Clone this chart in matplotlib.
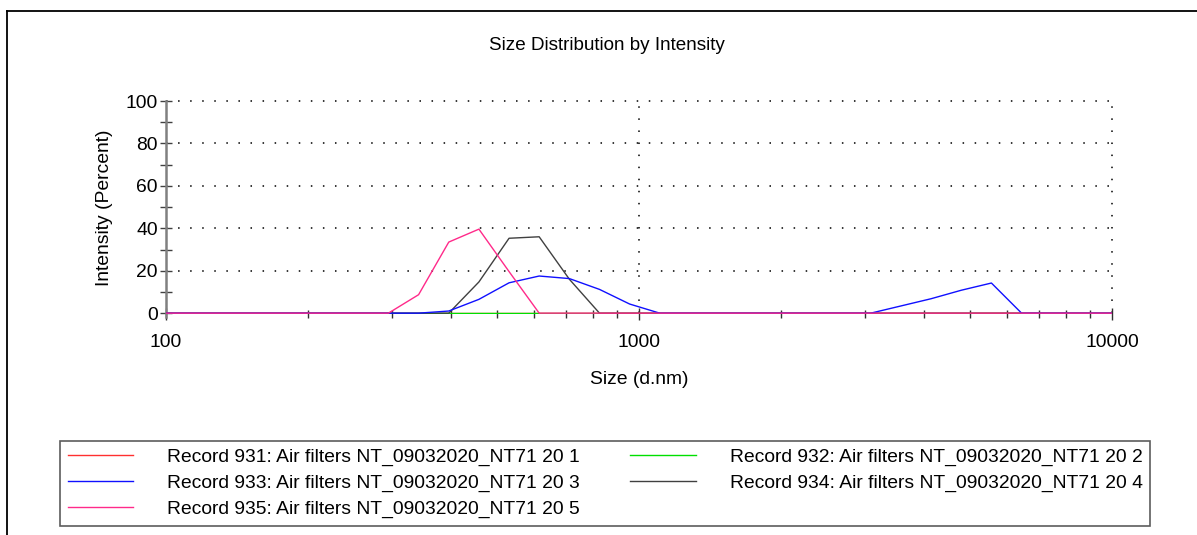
import matplotlib
matplotlib.use("Agg")
import matplotlib.pyplot as plt
from matplotlib.lines import Line2D
from matplotlib.ticker import FixedLocator, FixedFormatter, NullFormatter, LogLocator

plt.rcParams["font.family"] = ["Liberation Sans", "DejaVu Sans"]

# Size bins (d.nm) of the DLS distribution, 91 nm .. 10 um
sizes = [91.28, 105.7, 122.4, 141.8, 164.2, 190.1, 220.2, 255.0, 295.3, 342.0,
         396.1, 458.7, 531.2, 615.1, 712.4, 825.0, 955.4, 1106, 1281, 1484,
         1718, 1990, 2305, 2669, 3091, 3580, 4145, 4801, 5560, 6439,
         7456, 8635, 10000]

# Intensity (%) per bin for each record
rec_931 = [0] * 33
rec_932 = [0] * 33
rec_933 = [0, 0, 0, 0, 0, 0, 0, 0, 0, 0,
           1.0, 6.5, 14.3, 17.5, 16.3, 11.2, 4.3, 0, 0, 0,
           0, 0, 0, 0, 0, 3.4, 6.8, 10.8, 14.2, 0,
           0, 0, 0]
rec_934 = [0, 0, 0, 0, 0, 0, 0, 0, 0, 0,
           0, 14.7, 35.3, 36.0, 16.0, 0, 0, 0, 0, 0,
           0, 0, 0, 0, 0, 0, 0, 0, 0, 0,
           0, 0, 0]
rec_935 = [0, 0, 0, 0, 0, 0, 0, 0, 0, 8.7,
           33.5, 39.6, 19.6, 0, 0, 0, 0, 0, 0, 0,
           0, 0, 0, 0, 0, 0, 0, 0, 0, 0,
           0, 0, 0]

labels = [
    "Record 931: Air filters NT_09032020_NT71 20 1",
    "Record 932: Air filters NT_09032020_NT71 20 2",
    "Record 933: Air filters NT_09032020_NT71 20 3",
    "Record 934: Air filters NT_09032020_NT71 20 4",
    "Record 935: Air filters NT_09032020_NT71 20 5",
]
colors = ["#ff3030", "#00e000", "#1010ff", "#404040", "#ff2a8a"]

FS = 13.9

fig = plt.figure(figsize=(11.97, 5.35), dpi=100)
ax = fig.add_axes([166 / 1197, 1 - 314 / 535, (1112 - 166) / 1197, (314 - 101) / 535])

series = [rec_931, rec_932, rec_933, rec_934, rec_935]
# draw order: red, green, black, blue, pink on top
zorders = [3, 4, 6, 5, 7]
handles = []
for vals, col, lab, z in zip(series, colors, labels, zorders):
    h, = ax.plot(sizes, vals, color=col, lw=1.0, label=lab, zorder=z)
    handles.append(h)

ax.set_xscale("log")
ax.set_xlim(100, 10000)
ax.set_ylim(-0.4, 100)

# dotted grid
dots = (0, (1, 6.9))
for yv in [20, 40, 60, 80, 100]:
    ax.axhline(yv, color="black", lw=1.1, ls=dots, zorder=1, clip_on=False)
for xv in [1000, 10000]:
    ax.plot([xv, xv], [0, 100], color="black", lw=1.1, ls=dots, zorder=1,
            clip_on=False)

for side in ["top", "right", "bottom"]:
    ax.spines[side].set_visible(False)
ax.spines["left"].set_color("#808080")
ax.spines["left"].set_linewidth(1.8)
ax.spines["left"].set_bounds(-2, 100)

ax.set_yticks([0, 20, 40, 60, 80, 100])
ax.yaxis.set_minor_locator(FixedLocator([10, 30, 50, 70, 90]))
ax.tick_params(axis="y", which="both", direction="inout", length=8,
               width=1.0, color="#404040", labelsize=FS, pad=2)

ax.xaxis.set_major_locator(FixedLocator([100, 1000, 10000]))
ax.xaxis.set_major_formatter(FixedFormatter(["100", "1000", "10000"]))
ax.xaxis.set_minor_locator(LogLocator(base=10, subs=range(2, 10)))
ax.xaxis.set_minor_formatter(NullFormatter())
ax.tick_params(axis="x", which="major", direction="inout", length=9,
               width=1.0, color="#303030", labelsize=FS, pad=10)
ax.tick_params(axis="x", which="minor", direction="inout", length=6,
               width=1.0, color="#303030")

ax.set_xlabel("Size (d.nm)", fontsize=FS, labelpad=14)
ax.set_ylabel("Intensity (Percent)", fontsize=FS, labelpad=9)
fig.text(607 / 1197, 1 - 46 / 535, "Size Distribution by Intensity",
         fontsize=FS - 0.3, ha="center", va="center")

# legend: first column 931/933/935, second column 932/934
order = [0, 2, 4, 1, 3]
leg = fig.legend([handles[i] for i in order], [labels[i] for i in order],
                 ncol=2, loc="upper left",
                 bbox_to_anchor=(60 / 1197, 1 - 441 / 535),
                 fontsize=FS, frameon=True, fancybox=False, shadow=False,
                 borderpad=0.4, borderaxespad=0, labelspacing=0.42,
                 handlelength=3.4, handletextpad=1.75, columnspacing=2.6)
leg.get_frame().set_edgecolor("#333333")
leg.get_frame().set_linewidth(1.2)

# outer panel border (left and top edges)
fig.add_artist(Line2D([7 / 1197, 7 / 1197], [0, 1 - 11 / 535],
                      transform=fig.transFigure, color="black", lw=1.3))
fig.add_artist(Line2D([7 / 1197, 1], [1 - 11 / 535, 1 - 11 / 535],
                      transform=fig.transFigure, color="black", lw=1.3))

fig.savefig("out.png", dpi=100)
